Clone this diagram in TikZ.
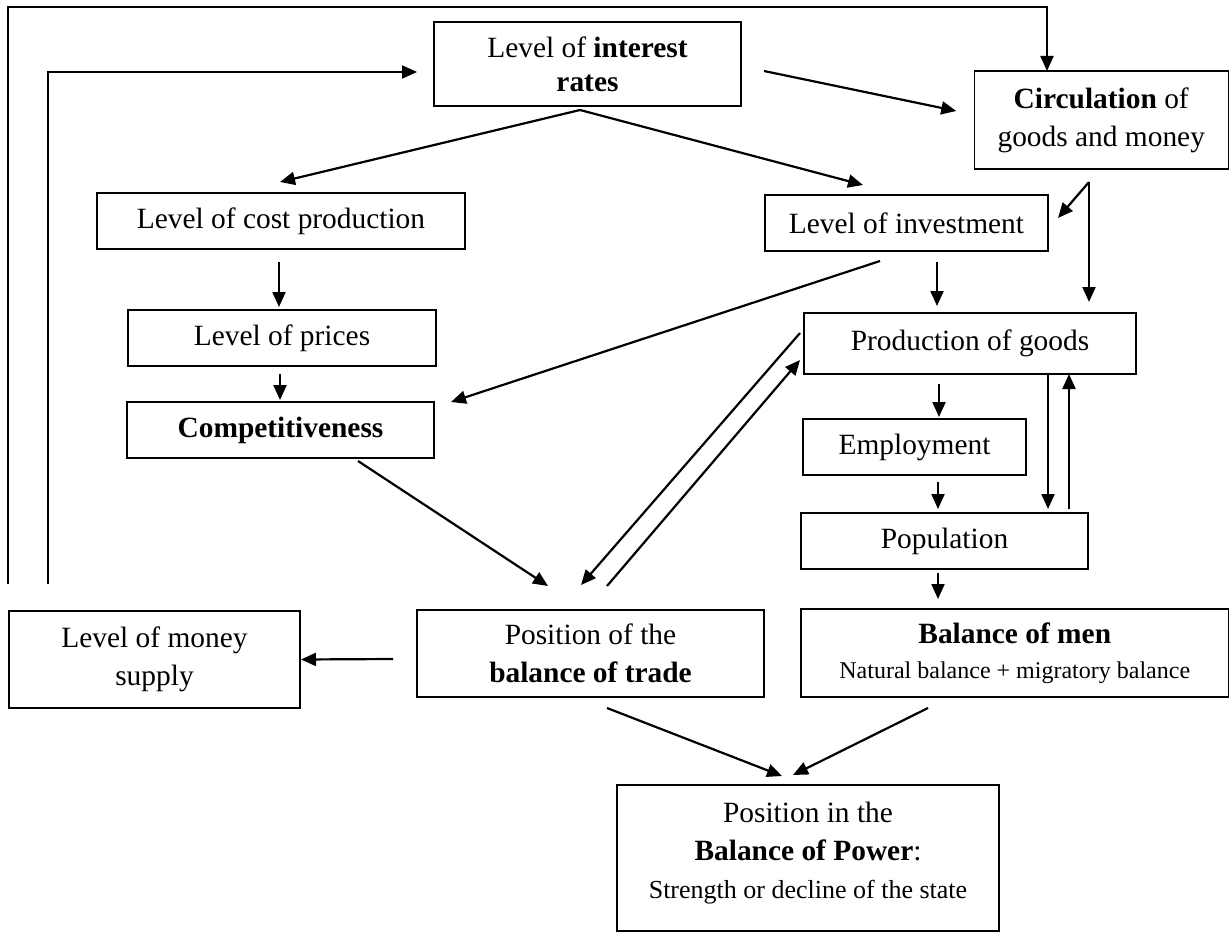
\documentclass[tikz,border=0pt]{standalone}
\usepackage{fontspec}
\setmainfont{Liberation Serif}
\usetikzlibrary{arrows.meta}
\begin{document}
\begin{tikzpicture}[x=1pt,y=-1pt,
  box/.style={draw, line width=1.1pt, inner sep=0pt, outer sep=0pt, align=center,
    font=\fontsize{29.4}{38}\selectfont},
  conn/.style={line width=2.2pt, -{Triangle[length=15pt,width=13pt]}},
  conn2/.style={line width=2.2pt, {Triangle[length=15pt,width=13pt]}-{Triangle[length=15pt,width=13pt]}},
  plain/.style={draw=none, align=center, inner sep=0pt, font=\fontsize{29.4}{38}\selectfont}]
\useasboundingbox (0,0) rectangle (1230,933);

% boxes
\node[box, minimum width=307pt, minimum height=84pt] (interest) at (587.5,64) {Level of \textbf{interest}\\[-4pt]\textbf{rates}};
\node[box, minimum width=254pt, minimum height=98pt] (circ) at (1101.25,120) {\textbf{Circulation} of\\goods and money};
\node[box, minimum width=368pt, minimum height=56pt] (cost) at (281,221) {Level of cost production};
\node[box, minimum width=283pt, minimum height=56pt] (inv) at (906.5,223) {Level of investment};
\node[box, minimum width=308pt, minimum height=56pt] (prices) at (282,338) {Level of prices};
\node[box, minimum width=307pt, minimum height=56pt] (comp) at (280.5,430) {\textbf{Competitiveness}};
\node[box, minimum width=332pt, minimum height=61pt] (prod) at (970,343.5) {Production of goods};
\node[box, minimum width=223pt, minimum height=56pt] (emp) at (914.5,447) {Employment};
\node[box, minimum width=287pt, minimum height=56pt] (pop) at (944.5,541) {Population};
\node[box, minimum width=291pt, minimum height=97pt] (money) at (154.5,659.5) {Level of money\\supply};
\node[box, minimum width=347pt, minimum height=87pt] (trade) at (590.5,653.5) {Position of the\\\textbf{balance of trade}};
\node[box, minimum width=427.5pt, minimum height=88pt] (men) at (1014.75,653) {\textbf{Balance of men}\\[-3pt]{\fontsize{24}{30}\selectfont Natural balance + migratory balance}};
\node[box, minimum width=382pt, minimum height=146pt] (power) at (808,858) {};
\node[plain] (powertext) at (808,853) {Position in the\\\textbf{Balance of Power}:\\{\fontsize{26}{36}\selectfont Strength or decline of the state}};

% loops
\coordinate (oA) at (8,584);
\coordinate (iA) at (48,584);
\draw[conn] (oA) |- ([shift={(-54.25,-64)}]circ.north) -- ([xshift=-54.25]circ.north);
\draw[conn] (iA) |- ([shift={(-17,8)}]interest.west);

% connectors
\draw[conn] ([shift={(23,7)}]interest.east) -- ([shift={(-18,-9)}]circ.west);
\draw[conn2] ([shift={(-1,-11)}]cost.north) -- ([shift={(-7.5,4)}]interest.south) -- ([shift={(-43.5,-10)}]inv.north);
\draw[conn] ([shift={(-12.25,13)}]circ.south) -- ([shift={(10,-5)}]inv.east);
\draw[conn] ([shift={(-12.25,13)}]circ.south) -- ([shift={(119,-11)}]prod.north);
\draw[conn] ([shift={(30.5,11)}]inv.south) -- ([shift={(-33,-7)}]prod.north);
\draw[conn] ([shift={(-26.5,10)}]inv.south) -- ([shift={(17,-28)}]comp.east);
\draw[conn] ([shift={(-2,13)}]cost.south) -- ([shift={(-3,-3)}]prices.north);
\draw[conn] ([shift={(-2,8)}]prices.south) -- ([shift={(-0.5,-2)}]comp.north);
\draw[conn] ([shift={(77.5,3)}]comp.south) -- ([shift={(-42.5,-24)}]trade.north);
\draw[conn] ([shift={(-4,-10.5)}]prod.west) -- ([shift={(-9.5,-25)}]trade.north);
\draw[conn] ([shift={(16.5,-24)}]trade.north) -- ([shift={(-4,16.5)}]prod.west);
\draw[conn] ([shift={(-31,10)}]prod.south) -- ([shift={(24.5,-2)}]emp.north);
\draw[conn] ([shift={(23.5,7)}]emp.south) -- ([shift={(-6.5,-4)}]pop.north);
\draw[conn] ([shift={(78,0)}]prod.south) -- ([shift={(103.5,-4)}]pop.north);
\draw[conn] ([shift={(124.5,-4)}]pop.north) -- ([shift={(99,0)}]prod.south);
\draw[conn] ([shift={(-6.5,4)}]pop.south) -- ([shift={(-76.75,-10)}]men.north);
\draw[conn] ([shift={(-24,5.5)}]trade.west) -- ([shift={(1,0)}]money.east);
\draw[conn] ([shift={(16.5,11)}]trade.south) -- ([shift={(-26,-9)}]power.north);
\draw[conn] ([shift={(-86.75,11)}]men.south) -- ([shift={(-15,-10)}]power.north);
\end{tikzpicture}
\end{document}
